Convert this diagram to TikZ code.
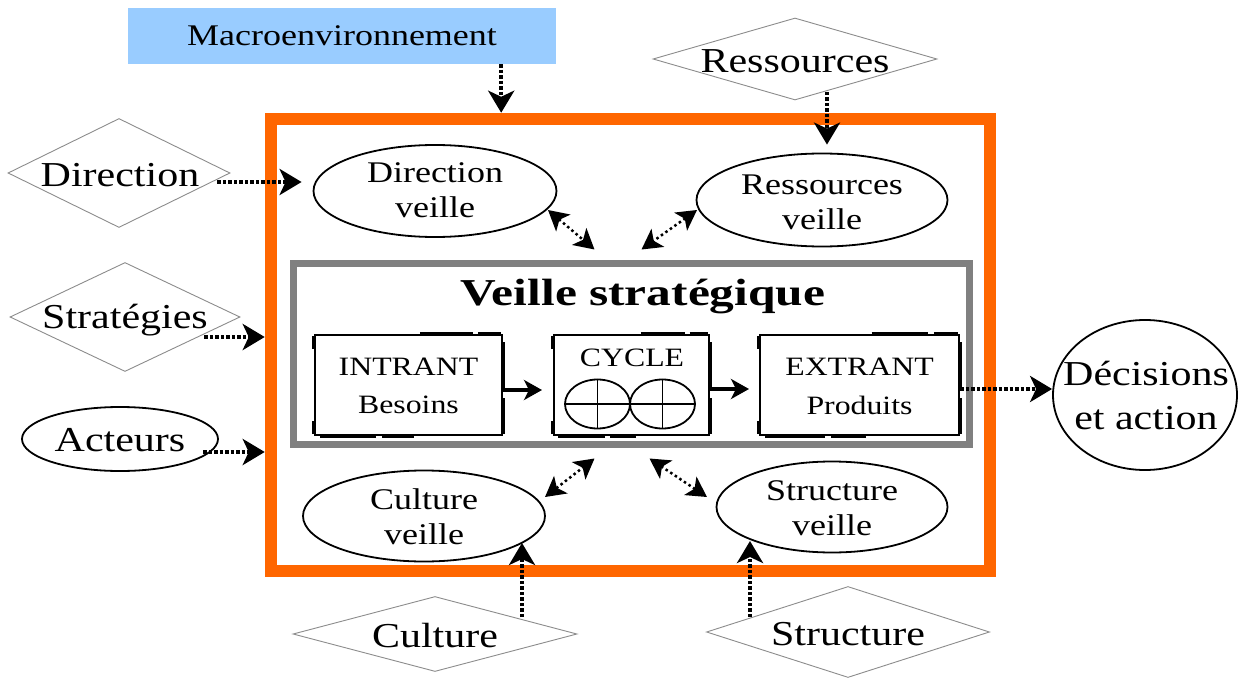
\documentclass[tikz,border=0pt]{standalone}
\usepackage{fontspec}
\setmainfont[FakeStretch=1.2]{Liberation Serif}
\newfontfamily\titlefont[FakeStretch=1.3]{Liberation Serif}
\usetikzlibrary{shapes.geometric,arrows.meta,calc}
\definecolor{macroblue}{HTML}{99CCFF}
\definecolor{frameorange}{HTML}{FF6600}
\definecolor{boxgray}{HTML}{808080}
\begin{document}
\begin{tikzpicture}[x=1pt,y=-1pt,
  dia/.style={draw=black!45, line width=0.9pt, diamond, inner sep=0pt},
  ell/.style={draw=black, line width=1.8pt, ellipse, inner sep=0pt},
  bigtxt/.style={font=\fontsize{35}{44}\selectfont, inner sep=0pt, align=center},
  midtxt/.style={font=\fontsize{30}{35}\selectfont, inner sep=0pt, align=center},
  smalltxt/.style={font=\fontsize{26.5}{30}\selectfont, inner sep=0pt},
  ibox/.style={draw=black, line width=2pt, rectangle, inner sep=0pt},
  thickseg/.style={line width=4.5pt},
  conn/.style={line width=4pt, dash pattern=on 3.5pt off 2pt, -{Stealth[length=22pt,width=26pt,inset=6pt]}},
  sarrow/.style={line width=3.5pt, -{Stealth[length=18pt,width=20pt,inset=5pt]}},
  dbl/.style={line width=2.5pt, dash pattern=on 2.5pt off 3pt, {Stealth[length=20pt,width=22pt,inset=5pt]}-{Stealth[length=20pt,width=22pt,inset=5pt]}}
]
\fill[white] (0,0) rectangle (1247,679);
\useasboundingbox (0,0) rectangle (1247,679);

% frames
\node[draw=frameorange, line width=12.5pt, rectangle, inner sep=0pt,
      minimum width=719pt, minimum height=452pt] (frame) at (630.5,345) {};
\node[draw=boxgray, line width=7pt, rectangle, inner sep=0pt,
      minimum width=676pt, minimum height=181pt] (vs) at (631,353.5) {};
\node[font=\titlefont\bfseries\fontsize{38}{40}\selectfont, inner sep=0pt] (title) at (643,296) {Veille stratégique};

% macro
\node[fill=macroblue, rectangle, inner sep=0pt, minimum width=428pt, minimum height=56pt] (macro) at (342,36) {};
\node[font=\fontsize{30}{34}\selectfont, inner sep=0pt] (macroT) at (342,36) {Macroenvironnement};

% diamonds
\node[dia, minimum width=284pt, minimum height=82pt] (res) at (795,59) {};
\node[bigtxt] (resT) at (795,61) {Ressources};
\node[dia, minimum width=222pt, minimum height=109pt] (dir) at (119,173) {};
\node[bigtxt] (dirT) at (120,175) {Direction};
\node[dia, minimum width=230pt, minimum height=109pt] (str) at (125,317) {};
\node[bigtxt] (strT) at (125,320) {Stratégies};
\node[dia, minimum width=284pt, minimum height=75pt] (cul) at (435,634) {};
\node[bigtxt] (culT) at (435,636) {Culture};
\node[dia, minimum width=283pt, minimum height=91pt] (st) at (848,632) {};
\node[bigtxt] (stT) at (848,634) {Structure};

% ellipses
\node[ell, minimum width=196pt, minimum height=64pt] (act) at (120,439) {};
\node[bigtxt] (actT) at (120,440) {Acteurs};
\node[ell, minimum width=243pt, minimum height=92pt] (dv) at (435,191) {};
\node[midtxt] (dvT) at (435,190) {Direction\\veille};
\node[ell, minimum width=251pt, minimum height=93pt] (rv) at (822,200) {};
\node[midtxt] (rvT) at (822,202) {Ressources\\veille};
\node[ell, minimum width=242pt, minimum height=91pt] (cv) at (424,516) {};
\node[midtxt] (cvT) at (424,517) {Culture\\veille};
\node[ell, minimum width=231pt, minimum height=91pt] (sv) at (832,507) {};
\node[midtxt] (svT) at (832,508) {Structure\\veille};
\node[ell, minimum width=184pt, minimum height=150pt] (dec) at (1145,395) {};
\node[bigtxt] (decT) at (1146,396) {Décisions\\et action};

% inner boxes
\node[ibox, minimum width=187pt, minimum height=100pt] (intrant) at (408.5,385) {};
\node[smalltxt] (intrantT) at (408.5,367) {INTRANT};
\node[smalltxt] (besT) at (408.5,405) {Besoins};
\node[ibox, minimum width=155pt, minimum height=100pt] (cycle) at (631.5,385) {};
\node[smalltxt] (cycleT) at (632,358) {CYCLE};
\node[ibox, minimum width=199pt, minimum height=100pt] (extrant) at (859.5,385) {};
\node[smalltxt] (extrantT) at (859.5,367) {EXTRANT};
\node[smalltxt] (prodT) at (859.5,405) {Produits};

\foreach \b in {intrant,cycle,extrant}{
  \draw[thickseg] ($(\b.north west)!0.56!(\b.north east)$) -- ($(\b.north west)!0.84!(\b.north east)$);
  \draw[thickseg] ($(\b.north west)!0.87!(\b.north east)$) -- ($(\b.north west)!0.99!(\b.north east)$);
  \draw[thickseg] ($(\b.north east)!0.08!(\b.south east)$) -- ($(\b.north east)!0.55!(\b.south east)$);
  \draw[thickseg] ($(\b.north east)!0.63!(\b.south east)$) -- ($(\b.north east)!0.98!(\b.south east)$);
  \draw[thickseg] ($(\b.south west)!0.03!(\b.south east)$) -- ($(\b.south west)!0.33!(\b.south east)$);
  \draw[thickseg] ($(\b.south west)!0.36!(\b.south east)$) -- ($(\b.south west)!0.53!(\b.south east)$);
  \draw[thickseg] ($(\b.north west)!0.02!(\b.south west)$) -- ($(\b.north west)!0.15!(\b.south west)$);
  \draw[thickseg] ($(\b.north west)!0.85!(\b.south west)$) -- ($(\b.north west)!0.98!(\b.south west)$);
}

% cycle symbol
\node[draw=black, line width=1.8pt, ellipse, inner sep=0pt, minimum width=65pt, minimum height=49pt] (c1) at (597.5,404) {};
\node[draw=black, line width=1.8pt, ellipse, inner sep=0pt, minimum width=65pt, minimum height=49pt] (c2) at (662.5,404) {};
\draw[line width=1.8pt] (c1.north) -- (c1.south) (c1.west) -- (c1.east);
\draw[line width=1.8pt] (c2.north) -- (c2.south) (c2.west) -- (c2.east);

% arrows between boxes
\draw[sarrow, shorten >=11pt] ([yshift=-5pt]intrant.east) -- ([yshift=-5pt]cycle.west);
\draw[sarrow, shorten >=10pt] ([yshift=-4pt]cycle.east) -- ([yshift=-4pt]extrant.west);
\coordinate (e1) at ([yshift=-4pt]extrant.east);
\draw[conn] (e1) -- (e1 -| dec.west);

% input connectors
\coordinate (m1) at ($(macro.south east)+(-55,0)$);
\draw[conn] (m1) -- (m1 |- frame.north);
\coordinate (r1) at ($(res.center)+(32,33)$);
\draw[conn, shorten >=8pt] (r1) -- (r1 |- rv.north);
\draw[conn] ($(dir.east)+(-13,9)$) -- ($(dv.west)+(-11,-9)$);
\coordinate (s1) at ($(str.east)+(-36,20)$);
\draw[conn] (s1) -- (s1 -| frame.west);
\coordinate (a1) at ($(act.center)+(83,13)$);
\draw[conn] (a1) -- (a1 -| frame.west);
\draw[conn] ($(cul.center)+(87,-17)$) -- ($(cv.center)+(98,27)$);
\draw[conn] ($(st.center)+(-98,-15)$) -- ($(sv.center)+(-82,34)$);

% double arrows
\draw[dbl] ($(dv.center)+(113,19)$) -- ($(vs.north west)+(305,-10)$);
\draw[dbl] ($(rv.center)+(-125,10)$) -- ($(vs.north west)+(352,-10)$);
\draw[dbl] ($(cv.center)+(121,-19)$) -- ($(vs.south west)+(305,11)$);
\draw[dbl] ($(sv.center)+(-125,-10)$) -- ($(vs.south west)+(360,11)$);
\end{tikzpicture}
\end{document}
